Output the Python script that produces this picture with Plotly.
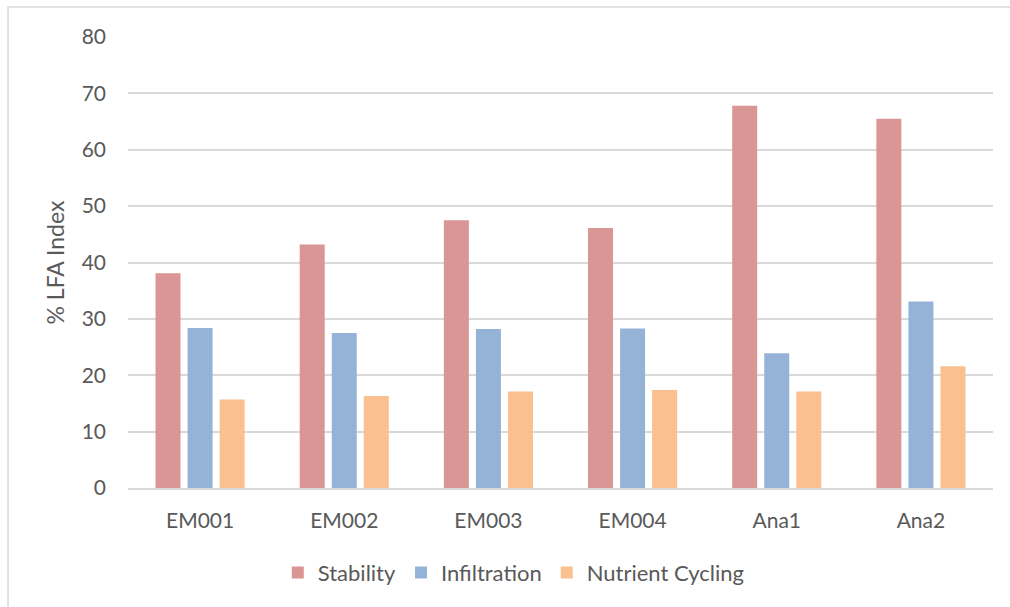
import plotly.graph_objects as go

# Sites and % LFA index values per indicator
sites = ["EM001", "EM002", "EM003", "EM004", "Ana1", "Ana2"]
stability = [38.1, 43.2, 47.5, 46.1, 67.8, 65.5]
infiltration = [28.4, 27.5, 28.2, 28.3, 23.9, 33.1]
nutrient_cycling = [15.7, 16.3, 17.1, 17.4, 17.1, 21.6]

y_ticks = [0, 10, 20, 30, 40, 50, 60, 70, 80]

text_color = "#595959"
grid_color = "#D9D9D9"
font_family = "Lato, 'Open Sans', sans-serif"

fig = go.Figure()
for name, vals, color in [
    ("Stability", stability, "#D99694"),
    ("Infiltration", infiltration, "#95B3D7"),
    ("Nutrient Cycling", nutrient_cycling, "#FAC090"),
]:
    fig.add_trace(go.Bar(
        x=sites, y=vals, name=name,
        marker=dict(color=color, line=dict(width=0)),
        hovertemplate="%{x}<br>" + name + ": %{y}<extra></extra>",
    ))

fig.update_layout(
    width=1010, height=607,
    margin=dict(l=128, r=17, t=37, b=119),
    paper_bgcolor="white", plot_bgcolor="white",
    barmode="group", bargap=0.333, bargroupgap=0.22,
    font=dict(family=font_family, size=21, color=text_color),
    showlegend=True,
    legend=dict(
        orientation="h", x=0.446, xanchor="center", y=-0.188, yanchor="middle",
        font=dict(size=22, color=text_color),
        traceorder="normal",
    ),
    xaxis=dict(
        showgrid=False, showline=True, linecolor=grid_color, linewidth=1.5,
        ticks="", ticklabelstandoff=13,
        tickfont=dict(size=21, color=text_color),
    ),
    yaxis=dict(
        range=[0, 80], tickvals=y_ticks, showgrid=True, gridcolor=grid_color,
        gridwidth=1.5, zeroline=False, showline=False, ticks="",
        ticklabelstandoff=21,
        tickfont=dict(size=21, color=text_color),
        title=dict(text="% LFA Index", font=dict(size=23, color=text_color),
                   standoff=10),
    ),
    shapes=[dict(
        type="rect", xref="paper", yref="paper",
        x0=-0.1387, x1=1.03, y0=-0.30, y1=1.0665,
        line=dict(color="#D9D9D9", width=1.5), fillcolor="rgba(0,0,0,0)",
        layer="below",
    )],
)

fig.write_html("out.html")
